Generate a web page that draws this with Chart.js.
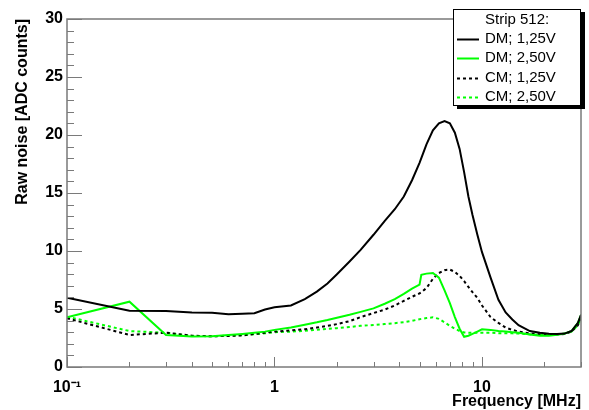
<!DOCTYPE html>
<html>
<head>
<meta charset="utf-8">
<script src="https://cdn.jsdelivr.net/npm/chart.js@4.4.1/dist/chart.umd.min.js"></script>
<style>
html,body{margin:0;padding:0;background:#fff;}
canvas{display:block;}
</style>
</head>
<body>
<canvas id="c" width="589" height="410"></canvas>
<script>
// ---- data ----
const freq = [0.1,0.2,0.3,0.4,0.5,0.6,0.7,0.8,0.9,1.0,1.2,1.4,1.6,1.8,2.0,2.3,2.6,3.0,3.4,3.8,4.2,4.6,5.0,5.1,5.4,5.8,6.2,6.6,7.0,7.4,7.8,8.2,8.6,9.0,9.5,10,11,12,13,14,15,17,19,21,23,25,27,29,30];

const dm125 = [5.97,4.85,4.83,4.70,4.68,4.55,4.60,4.63,4.95,5.15,5.30,5.85,6.50,7.20,8.00,9.10,10.1,11.4,12.6,13.6,14.7,16.1,17.6,18.0,19.2,20.4,21.0,21.2,21.0,20.2,18.8,16.8,14.7,13.1,11.4,9.9,7.7,5.8,4.7,4.1,3.6,3.1,2.95,2.87,2.84,2.88,3.1,3.8,4.5];

const dm250 = [4.28,5.63,2.76,2.62,2.65,2.75,2.85,2.95,3.05,3.20,3.40,3.65,3.85,4.05,4.25,4.50,4.75,5.05,5.45,5.85,6.30,6.75,7.10,7.95,8.05,8.10,7.70,6.60,5.50,4.30,3.30,2.60,2.70,2.85,3.05,3.25,3.20,3.10,3.05,3.00,2.95,2.80,2.70,2.70,2.78,2.88,3.1,3.8,4.5];

const cm125 = [4.20,2.76,2.96,2.70,2.65,2.68,2.72,2.85,2.95,3.05,3.15,3.25,3.40,3.55,3.70,3.95,4.30,4.65,4.95,5.30,5.70,6.05,6.35,6.45,6.80,7.60,8.10,8.35,8.40,8.20,7.85,7.40,6.90,6.45,5.95,5.30,4.30,3.80,3.40,3.20,3.05,2.90,2.82,2.80,2.80,2.85,3.05,3.6,4.3];

const cm250 = [4.34,3.10,2.95,2.68,2.65,2.70,2.75,2.82,2.90,3.00,3.05,3.12,3.20,3.28,3.35,3.45,3.55,3.62,3.70,3.78,3.86,3.98,4.12,4.15,4.22,4.28,4.15,3.85,3.55,3.30,3.10,2.98,2.95,2.95,2.95,2.95,2.95,2.92,2.90,2.90,2.88,2.82,2.76,2.76,2.80,2.88,3.05,3.6,4.2];

const seriesLabels = ['DM; 1,25V','DM; 2,50V','CM; 1,25V','CM; 2,50V'];
const legendTitle = 'Strip 512:';
const xTickValues = [0.1, 1, 10];
const xTickLabels = ['10\u207B\u00B9', '1', '10'];
const yTickStep = 5;
const xTitle = 'Frequency [MHz]';
const yTitle = 'Raw noise [ADC counts]';

// ---- styling ----
const FONT = "'Liberation Sans', Arial, Helvetica, sans-serif";
const BLACK = '#000000';
const GREEN = '#00ff00';
const AXISGRAY = '#7a7a7a';

function pts(vals){ return freq.map((f,i)=>({x:f, y:vals[i]})); }

const rootPlugin = {
  id: 'rootStyle',
  afterDatasetsDraw(chart){
    const ctx = chart.ctx;
    const a = chart.chartArea;
    const xs = chart.scales.x, ys = chart.scales.y;
    ctx.save();
    // frame
    ctx.strokeStyle = AXISGRAY;
    ctx.lineWidth = 1.5;
    ctx.strokeRect(a.left, a.top, a.right - a.left, a.bottom - a.top);
    // y ticks (inside)
    ctx.lineWidth = 1;
    ctx.beginPath();
    for (let v = ys.min; v <= ys.max; v += 1) {
      const y = Math.round(ys.getPixelForValue(v)) + 0.5;
      const len = (v % yTickStep === 0) ? 15 : 7;
      ctx.moveTo(a.left, y);
      ctx.lineTo(a.left + len, y);
    }
    // x ticks (inside, log)
    for (const d of xTickValues) {
      for (let m = 1; m <= 9; m++) {
        const f = d * m;
        if (f < xs.min - 1e-9 || f > xs.max + 1e-9) continue;
        const x = Math.round(xs.getPixelForValue(f)) + 0.5;
        const len = (m === 1) ? 10 : 5;
        ctx.moveTo(x, a.bottom);
        ctx.lineTo(x, a.bottom - len);
      }
    }
    ctx.stroke();

    // legend
    const w = 128, h = 97;
    const x0 = a.right - w, y0 = a.top - 10;
    ctx.fillStyle = '#000';
    ctx.fillRect(x0 + 4, y0 + 3, w, h);
    ctx.fillStyle = '#fff';
    ctx.fillRect(x0, y0, w, h);
    ctx.strokeStyle = '#000';
    ctx.lineWidth = 1;
    ctx.strokeRect(x0 + 0.5, y0 + 0.5, w - 1, h - 1);
    ctx.font = '15px ' + FONT;
    ctx.textBaseline = 'middle';
    ctx.textAlign = 'left';
    ctx.fillStyle = '#000';
    const textX = x0 + 32;
    ctx.fillText(legendTitle, textX, y0 + 11);
    chart.data.datasets.forEach((ds, i) => {
      const yy = y0 + 30 + i * 19.3;
      ctx.strokeStyle = ds.borderColor;
      ctx.lineWidth = ds.borderWidth;
      ctx.setLineDash(ds.borderDash || []);
      ctx.beginPath();
      ctx.moveTo(x0 + 4, Math.round(yy) + 0.5);
      ctx.lineTo(x0 + 26, Math.round(yy) + 0.5);
      ctx.stroke();
      ctx.setLineDash([]);
      ctx.fillStyle = '#000';
      ctx.fillText(ds.label, textX, yy);
    });
    ctx.restore();
  }
};

new Chart(document.getElementById('c'), {
  type: 'line',
  data: {
    datasets: [
      {label: seriesLabels[0], data: pts(dm125), borderColor: BLACK, borderWidth: 2, pointRadius: 0, tension: 0},
      {label: seriesLabels[1], data: pts(dm250), borderColor: GREEN, borderWidth: 2, pointRadius: 0, tension: 0},
      {label: seriesLabels[2], data: pts(cm125), borderColor: BLACK, borderWidth: 2, borderDash: [3,3], pointRadius: 0, tension: 0},
      {label: seriesLabels[3], data: pts(cm250), borderColor: GREEN, borderWidth: 2, borderDash: [3,3], pointRadius: 0, tension: 0}
    ]
  },
  options: {
    responsive: false,
    animation: false,
    devicePixelRatio: 1,
    layout: {padding: {top: 19, right: 8, left: 0, bottom: 0}},
    plugins: {legend: {display: false}, tooltip: {enabled: false}},
    scales: {
      x: {
        type: 'logarithmic', min: 0.1, max: 30,
        grid: {display: false, drawTicks: false},
        border: {display: false},
        afterBuildTicks: s => { s.ticks = xTickValues.map(v => ({value: v})); },
        ticks: {
          autoSkip: false, maxRotation: 0, padding: 11, color: '#000',
          font: {family: FONT, size: 16, weight: 'bold'},
          callback: (v, i) => xTickLabels[i]
        },
        title: {display: true, text: xTitle, align: 'end', color: '#000', padding: 0,
                font: {family: FONT, size: 16, weight: 'bold', lineHeight: 1}},
        afterFit: s => { s.height = 43; }
      },
      y: {
        min: 0, max: 30,
        grid: {display: false, drawTicks: false},
        border: {display: false},
        ticks: {stepSize: yTickStep, padding: 4, color: '#000',
                font: {family: FONT, size: 16, weight: 'bold'}},
        title: {display: true, text: yTitle, align: 'end', color: '#000', padding: {top: 13, bottom: 0},
                font: {family: FONT, size: 16, weight: 'bold'}},
        afterFit: s => { s.width = 67; }
      }
    }
  },
  plugins: [rootPlugin]
});
</script>
</body>
</html>
